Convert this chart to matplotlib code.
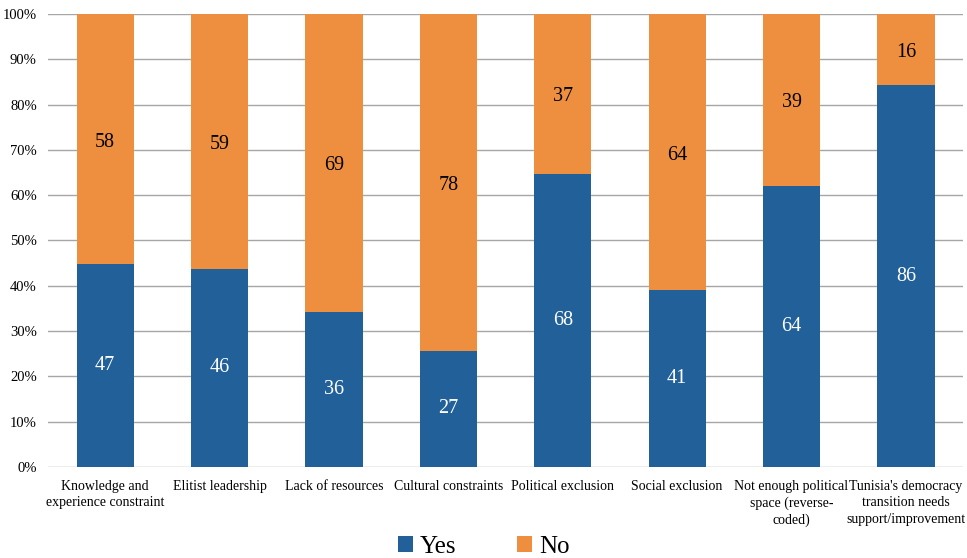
import matplotlib
matplotlib.use("Agg")
import matplotlib.pyplot as plt
import numpy as np
from matplotlib.ticker import FuncFormatter

categories = ["Knowledge and\nexperience constraint", "Elitist leadership", "Lack of resources",
              "Cultural constraints", "Political exclusion", "Social exclusion",
              "Not enough political\nspace (reverse-\ncoded)",
              "Tunisia's democracy\ntransition needs\nsupport/improvement"]
yes = [47, 46, 36, 27, 68, 41, 64, 86]
no = [58, 59, 69, 78, 37, 64, 39, 16]

plt.rcParams['font.family'] = ['Liberation Serif', 'DejaVu Serif']

blue = "#22609A"
orange = "#EE8F3F"

yes_a = np.array(yes, dtype=float)
no_a = np.array(no, dtype=float)
tot = yes_a + no_a
yp = yes_a / tot * 100
npct = no_a / tot * 100

fig = plt.figure(figsize=(9.67, 5.58), dpi=100)
ax = fig.add_axes([0.0496, 0.163, 0.9464, 0.812])
x = np.arange(len(categories))
ax.bar(x, yp, width=0.5, color=blue, label="Yes", zorder=3)
ax.bar(x, npct, width=0.5, bottom=yp, color=orange, label="No", zorder=3)

for i in range(len(x)):
    ax.text(x[i], yp[i] / 2, str(yes[i]), ha='center', va='center', color='white', fontsize=14.5, zorder=4)
    ax.text(x[i], yp[i] + npct[i] / 2 - 0.7, str(no[i]), ha='center', va='center', color='black', fontsize=14.5, zorder=4)

ax.set_xlim(-0.5, len(x) - 0.5)
ax.set_ylim(0, 100)
ax.set_yticks(np.arange(0, 101, 10))
ax.yaxis.set_major_formatter(FuncFormatter(lambda v, p: f"{int(v)}%"))
ax.grid(axis='y', color='#A6A6A6', linewidth=1.0, zorder=0)
for s in ax.spines.values():
    s.set_visible(False)
ax.tick_params(axis='both', length=0, labelsize=10.5)
ax.tick_params(axis='y', pad=8)
ax.tick_params(axis='x', pad=9)
ax.set_xticks(x)
ax.set_xticklabels(categories, fontsize=10, linespacing=1.35)

leg = fig.legend(loc='lower center', bbox_to_anchor=(0.5, -0.04), ncol=2, frameon=False,
                 fontsize=18, handlelength=0.6, handleheight=0.6, columnspacing=2.4, handletextpad=0.3)

fig.savefig("out.png", dpi=100)
